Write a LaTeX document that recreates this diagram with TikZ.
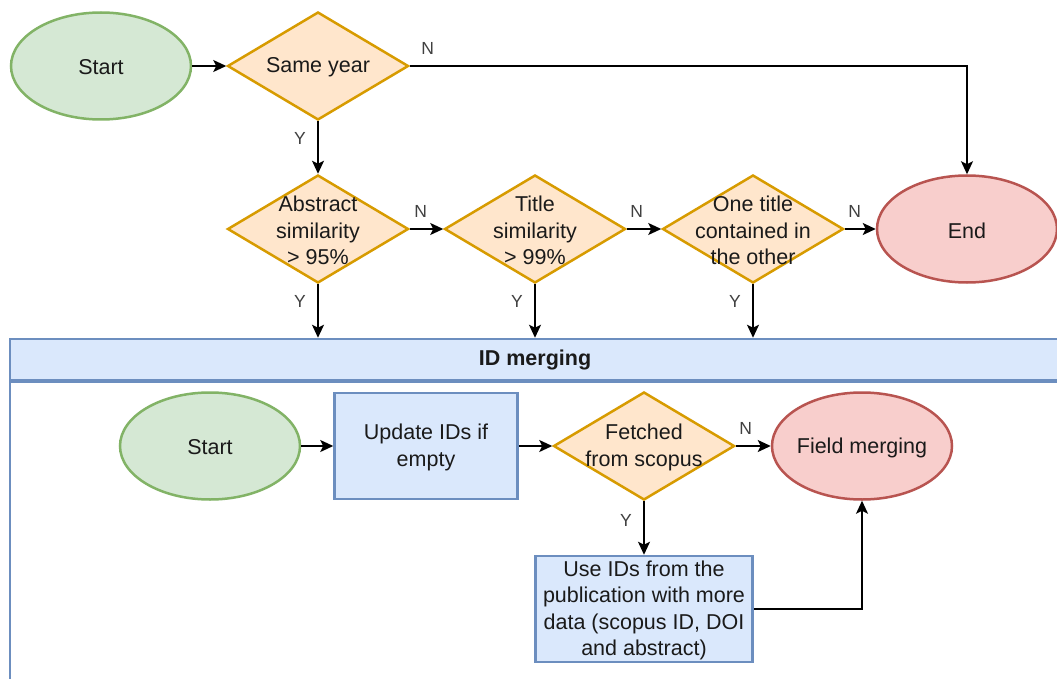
\documentclass[tikz,border=0pt]{standalone}
\usepackage{fontspec}
\setmainfont{Liberation Sans}
\usetikzlibrary{shapes.geometric,arrows.meta}

\definecolor{greenfill}{HTML}{D5E8D4}
\definecolor{greenline}{HTML}{82B366}
\definecolor{orangefill}{HTML}{FFE6CC}
\definecolor{orangeline}{HTML}{D79B00}
\definecolor{redfill}{HTML}{F8CECC}
\definecolor{redline}{HTML}{B85450}
\definecolor{bluefill}{HTML}{DAE8FC}
\definecolor{blueline}{HTML}{6C8EBF}
\definecolor{textcol}{HTML}{1A1A1A}
\definecolor{lblcol}{HTML}{404040}

\tikzset{
  txt/.style={font=\fontsize{21.5}{26.5}\selectfont, text=textcol, align=center,
    inner sep=0pt, yshift=-1.5pt},
  terminal/.style={ellipse, line width=2.5pt, minimum width=180pt, minimum height=107pt, inner sep=0pt},
  startnode/.style={terminal, draw=greenline, fill=greenfill},
  endnode/.style={terminal, draw=redline, fill=redfill},
  decision/.style={diamond, draw=orangeline, fill=orangefill, line width=2.5pt,
    minimum width=181pt, minimum height=108pt, inner sep=0pt},
  process/.style={rectangle, draw=blueline, fill=bluefill, line width=2.5pt,
    minimum height=106pt, inner sep=0pt},
  edge/.style={draw=black, line width=1.7pt, -{Stealth[length=13pt,width=12pt,inset=3pt]}},
  lbl/.style={font=\fontsize{17.5}{20}\selectfont, text=lblcol, inner sep=0pt},
  poolhead/.style={rectangle, draw=blueline, fill=bluefill, line width=2.5pt,
    minimum width=1050pt, minimum height=41pt, inner sep=0pt,
    font=\fontsize{21.5}{27}\selectfont\bfseries, text=textcol},
  poolbody/.style={rectangle, draw=blueline, fill=white, line width=2.5pt,
    minimum width=1050pt, minimum height=340pt, inner sep=0pt},
}

\begin{document}
\begin{tikzpicture}[x=1pt,y=-1pt]
\useasboundingbox (0,0) rectangle (1057,679);

% swimlane container, cut at the page edges
\begin{scope}
  \clip (0,0) rectangle (1057,679);
  \node[poolbody, anchor=north] (poolbody) at (535,380) {};
  \node[poolhead] (pool) at (535,359.5) {ID merging};
\end{scope}

% duplicate check chain
\node[startnode] (start) at (101,66) {};
\node[txt] (start-t) at (start) {Start};

\node[decision] (same) at (318,66) {};
\node[txt] (same-t) at (same) {Same year};

\node[decision] (abst) at (318,229) {};
\node[txt] (abst-t) at (abst) {Abstract\\similarity\\> 95\%};

\node[decision] (title) at (535,229) {};
\node[txt] (title-t) at (title) {Title\\similarity\\> 99\%};

\node[decision] (contain) at (753,229) {};
\node[txt] (contain-t) at (contain) {One title\\contained in\\the other};

\node[endnode] (end) at (967,229) {};
\node[txt] (end-t) at (end) {End};

% ID merging steps
\node[startnode] (start2) at (210,446) {};
\node[txt] (start2-t) at (start2) {Start};

\node[process, minimum width=183pt] (update) at (426,446) {};
\node[txt] (update-t) at (update) {Update IDs if\\empty};

\node[decision] (fetched) at (644,446) {};
\node[txt] (fetched-t) at (fetched) {Fetched\\from scopus};

\node[endnode] (field) at (862,446) {};
\node[txt] (field-t) at (field) {Field merging};

\node[process, minimum width=217pt] (useids) at (644,609) {};
\node[txt] (useids-t) at (useids) {Use IDs from the\\publication with more\\data (scopus ID, DOI\\and abstract)};

% connectors
\draw[edge] (start) -- (same);
\draw[edge] (same.east) -| (end.north)
  node[lbl, at start, xshift=18pt, yshift=18pt] {N};
\draw[edge] (same) -- (abst)
  node[lbl, at start, xshift=-18pt, yshift=-17pt] {Y};
\draw[edge] (abst) -- (title)
  node[lbl, at start, xshift=11pt, yshift=18pt] {N};
\draw[edge] (title) -- (contain)
  node[lbl, at start, xshift=10pt, yshift=18pt] {N};
\draw[edge] (contain) -- (end)
  node[lbl, at start, xshift=10pt, yshift=18pt] {N};
\draw[edge] (abst.south) -- (abst.south |- pool.north)
  node[lbl, at start, xshift=-18pt, yshift=-17pt] {Y};
\draw[edge] (title.south) -- (title.south |- pool.north)
  node[lbl, at start, xshift=-18pt, yshift=-17pt] {Y};
\draw[edge] (contain.south) -- (contain.south |- pool.north)
  node[lbl, at start, xshift=-18pt, yshift=-17pt] {Y};

\draw[edge] (start2) -- (update);
\draw[edge] (update) -- (fetched);
\draw[edge] (fetched) -- (field)
  node[lbl, at start, xshift=10pt, yshift=18pt] {N};
\draw[edge] (fetched.south) -- (useids.north)
  node[lbl, at start, xshift=-18pt, yshift=-19pt] {Y};
\draw[edge] (useids.east) -| (field.south);
\end{tikzpicture}
\end{document}
